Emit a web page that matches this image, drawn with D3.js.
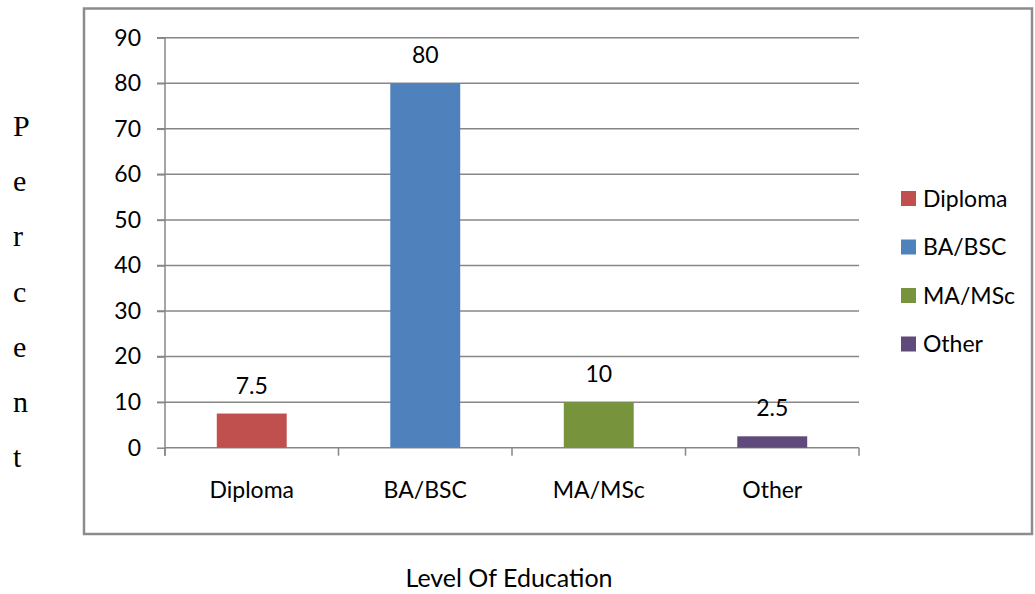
<!DOCTYPE html>
<html>
<head>
<meta charset="utf-8">
<script src="https://cdn.jsdelivr.net/npm/d3@7"></script>
<style>
  body { margin: 0; background: #fff; }
  svg { display: block; }
  text { font-family: Lato, "Open Sans", sans-serif; fill: #000; }
</style>
</head>
<body>
<svg id="chart" width="1035" height="594"></svg>
<script>
const categories = ["Diploma", "BA/BSC", "MA/MSc", "Other"];
const values = [7.5, 80, 10, 2.5];
const valueLabels = ["7.5", "80", "10", "2.5"];
const colors = ["#C0504D", "#4F81BD", "#77933C", "#604A7B"];
const yTicks = [0, 10, 20, 30, 40, 50, 60, 70, 80, 90];
const yTitleLetters = ["P", "e", "r", "c", "e", "n", "t"];
const xTitle = "Level Of Education";

const svg = d3.select("#chart");
const gridColor = "#878787";

// outer frame
svg.append("rect")
  .attr("x", 84).attr("y", 8.5)
  .attr("width", 948).attr("height", 525.5)
  .attr("fill", "none").attr("stroke", "#8c8c8c").attr("stroke-width", 2.5);

const y = d3.scaleLinear().domain([0, 90]).range([447.7, 37.7]);
const x = d3.scaleBand().domain(categories).range([165, 859]).padding(0);

// gridlines
svg.append("g").selectAll("line").data(yTicks.filter(d => d > 0)).join("line")
  .attr("x1", 157).attr("x2", 859)
  .attr("y1", d => y(d)).attr("y2", d => y(d))
  .attr("stroke", gridColor).attr("stroke-width", 1.5);

// y axis
const yAxis = svg.append("g").attr("transform", "translate(165,0)")
  .call(d3.axisLeft(y).tickValues(yTicks).tickSize(8).tickPadding(16).tickFormat(d3.format("d")));
yAxis.selectAll(".tick line").attr("stroke", gridColor).attr("stroke-width", 1.5);
yAxis.selectAll(".tick text").attr("font-family", "Lato").attr("font-size", 23).attr("fill", "#000");
yAxis.select(".domain").remove();
svg.append("line").attr("x1", 165).attr("x2", 165)
  .attr("y1", y(90)).attr("y2", y(0) + 8)
  .attr("stroke", gridColor).attr("stroke-width", 1.5);

// x axis line and boundary ticks
svg.append("line").attr("x1", 165).attr("x2", 859)
  .attr("y1", y(0)).attr("y2", y(0))
  .attr("stroke", gridColor).attr("stroke-width", 1.5);
const bounds = categories.map(c => x(c)).concat([x(categories[categories.length - 1]) + x.bandwidth()]);
svg.append("g").selectAll("line").data(bounds).join("line")
  .attr("x1", d => d).attr("x2", d => d)
  .attr("y1", y(0)).attr("y2", y(0) + 8)
  .attr("stroke", gridColor).attr("stroke-width", 1.5);

// bars
const barW = x.bandwidth() * 0.403;
svg.append("g").selectAll("rect").data(values).join("rect")
  .attr("x", (d, i) => x(categories[i]) + x.bandwidth() / 2 - barW / 2)
  .attr("width", barW)
  .attr("y", d => y(d))
  .attr("height", d => y(0) - y(d))
  .attr("fill", (d, i) => colors[i]);

// value labels
svg.append("g").selectAll("text").data(values).join("text")
  .attr("x", (d, i) => x(categories[i]) + x.bandwidth() / 2)
  .attr("y", d => y(d) - 20)
  .attr("text-anchor", "middle").attr("font-size", 23)
  .text((d, i) => valueLabels[i]);

// category labels
svg.append("g").selectAll("text").data(categories).join("text")
  .attr("x", d => x(d) + x.bandwidth() / 2)
  .attr("y", 498)
  .attr("text-anchor", "middle").attr("font-size", 23)
  .text(d => d);

// legend
const legend = svg.append("g").selectAll("g").data(categories).join("g")
  .attr("transform", (d, i) => `translate(901,${198.5 + i * 48.5})`);
legend.append("rect").attr("x", 0).attr("y", -7.5).attr("width", 15).attr("height", 15)
  .attr("fill", (d, i) => colors[i]);
legend.append("text").attr("x", 22).attr("y", 8).attr("font-size", 23).text(d => d);

// y title (stacked letters)
svg.append("g").selectAll("text").data(yTitleLetters).join("text")
  .attr("x", 13).attr("y", (d, i) => 136 + i * 55.2)
  .style("font-family", "'Liberation Serif', 'Times New Roman', serif")
  .attr("font-size", 30)
  .text(d => d);

// x title
svg.append("text").attr("x", 509).attr("y", 587)
  .attr("text-anchor", "middle").attr("font-size", 25).text(xTitle);
</script>
</body>
</html>
